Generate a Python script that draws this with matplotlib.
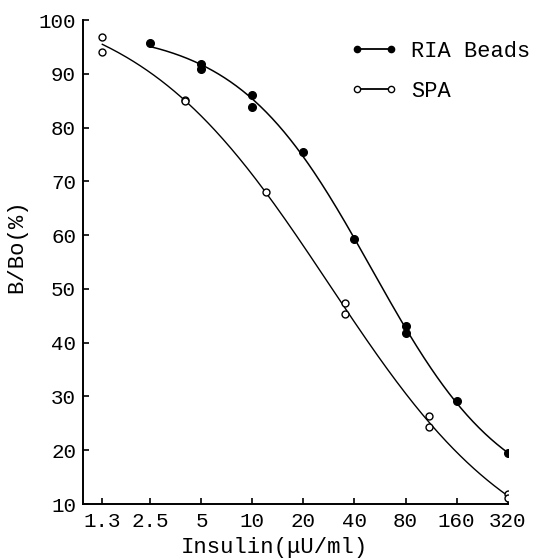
import numpy as np
import matplotlib
matplotlib.use("Agg")
import matplotlib.pyplot as plt
from matplotlib.ticker import FixedLocator, FixedFormatter, NullLocator

# ---- data ----
tick_vals = [1.3, 2.5, 5, 10, 20, 40, 80, 160, 320]
tick_labels = ["1.3", "2.5", "5", "10", "20", "40", "80", "160", "320"]

ria_x = [2.5, 5, 5, 10, 10, 20, 40, 80, 80, 160, 320]
ria_y = [95.7, 91.8, 90.9, 86.1, 83.8, 75.5, 59.3, 43.1, 41.8, 29.2, 19.5]

spa_x = [1.3, 1.3, 4, 4, 12, 35, 35, 110, 110, 320, 320]
spa_y = [96.8, 94.1, 85.2, 84.9, 68.0, 47.4, 45.4, 26.4, 24.3, 11.8, 11.2]

font = "Liberation Mono"
plt.rcParams['font.family'] = [font, 'DejaVu Sans']
fs = 15

fig = plt.figure(figsize=(5.35, 5.59), dpi=100)
ax = fig.add_axes([83/535, 1-504/559, (508-83)/535, (504-20)/559])

ax.set_xscale('log', base=2)
ax.set_xlim(1.0, 322)
ax.set_ylim(10, 100)


def fourpl(lx, p):
    a, b, c, d = p
    return d + (a - d) / (1 + np.exp(b * (lx - c)))


def fit_curve(xs, ys):
    """Fitted standard curve (4-parameter logistic in log2 dose)."""
    lx = np.log2(np.asarray(xs, float))
    ys = np.asarray(ys, float)
    p = np.array([100.0, 0.7, np.median(lx), 0.0])
    lam = 1e-2
    for _ in range(500):
        r = ys - fourpl(lx, p)
        J = np.empty((lx.size, 4))
        for k in range(4):
            dp = np.zeros(4); dp[k] = 1e-6 * max(1.0, abs(p[k]))
            J[:, k] = (fourpl(lx, p + dp) - fourpl(lx, p - dp)) / (2 * dp[k])
        A = J.T @ J
        step = np.linalg.solve(A + lam * np.diag(np.diag(A)), J.T @ r)
        pn = p + step
        if np.sum((ys - fourpl(lx, pn))**2) < np.sum(r**2):
            p = pn; lam *= 0.5
        else:
            lam *= 4
    gx = np.linspace(lx.min(), lx.max(), 300)
    return 2**gx, fourpl(gx, p)

cx, cy = fit_curve(ria_x, ria_y)
ax.plot(cx, cy, color='black', lw=1.1)
cx, cy = fit_curve(spa_x, spa_y)
ax.plot(cx, cy, color='black', lw=1.0)

ax.plot(ria_x, ria_y, 'o', ms=5.5, mfc='black', mec='black', ls='none')
ax.plot(spa_x, spa_y, 'o', ms=5, mfc='white', mec='black', mew=1.0, ls='none')

# legend handles
h1, = ax.plot([], [], '-o', color='black', lw=1.3, ms=4.5, mfc='black')
h2, = ax.plot([], [], '-o', color='black', lw=1.3, ms=4.5, mfc='white', mew=1.0)
fig.legend([h1, h2], ["RIA Beads", "SPA"], loc='upper left',
           bbox_to_anchor=(350/535, 1-41/559), frameon=False, numpoints=2,
           handlelength=2.15, handletextpad=0.65, labelspacing=0.85,
           borderpad=0, borderaxespad=0, prop={'family': font, 'size': 15.8})

ax.xaxis.set_major_locator(FixedLocator(tick_vals))
ax.xaxis.set_major_formatter(FixedFormatter(tick_labels))
ax.xaxis.set_minor_locator(NullLocator())
ax.set_yticks(np.arange(10, 101, 10))

ax.spines['top'].set_visible(False)
ax.spines['right'].set_visible(False)
for s in ('left', 'bottom'):
    ax.spines[s].set_linewidth(1.4)
ax.tick_params(axis='both', direction='in', length=4, width=1.2,
               labelsize=fs, colors='black')
ax.tick_params(axis='x', pad=6)
ax.tick_params(axis='y', pad=5)

ax.set_xlabel("Insulin(μU/ml)", fontsize=16)
ax.xaxis.set_label_coords((274-83)/(508-83), -(548-504)/(504-20))
ax.xaxis.label.set_va('center')
ax.set_ylabel("B/Bo(%)", fontsize=16)
ax.yaxis.set_label_coords(-(83-17)/(508-83), (504-246)/(504-20))
ax.yaxis.label.set_va('center')

fig.savefig("out.png", dpi=100)
